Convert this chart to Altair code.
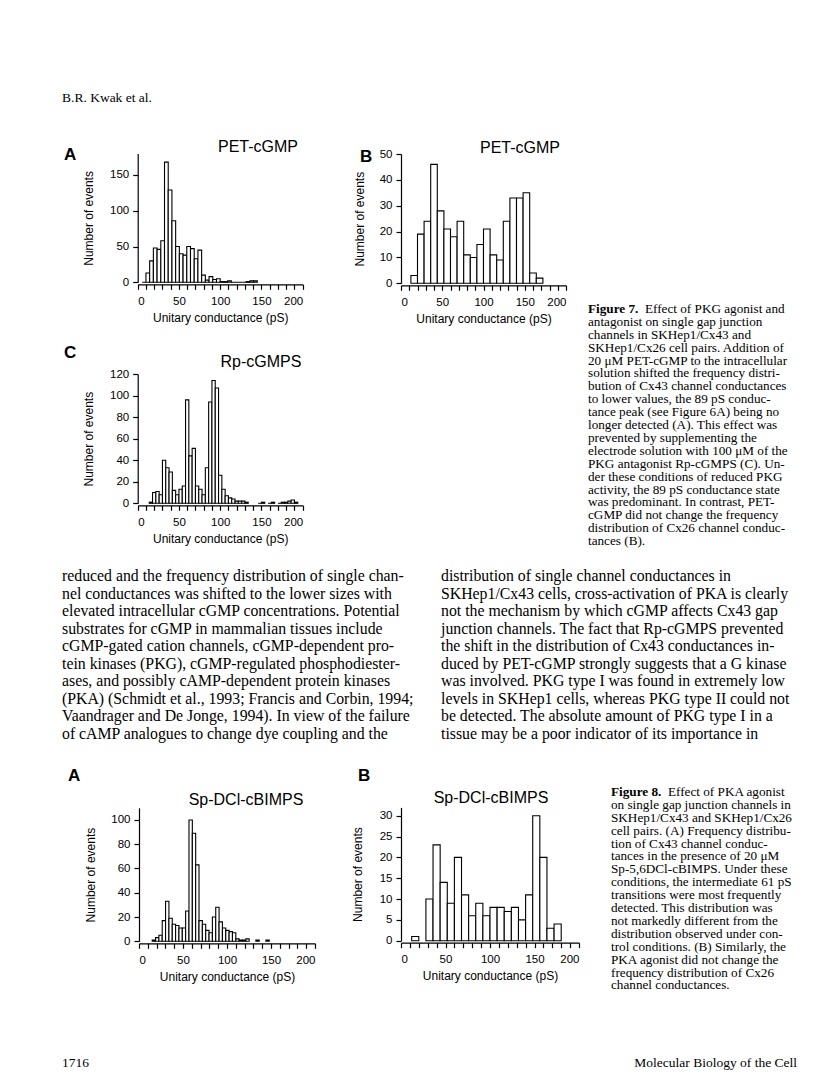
import altair as alt
import pandas as pd

# ---------------- data ----------------
# Figure 7A  PET-cGMP, SKHep1/Cx43  (bin start in pS, count)
f7a_start = [5.5, 10, 14.5, 19, 23.5, 28, 32.5, 37, 41.5, 46, 50.5, 55, 59.5, 64, 68.5, 73,
             77.5, 82, 86.5, 91, 95.5, 100, 104.5, 109, 113.5, 118, 122.5, 127, 131.5, 136, 140.5]
f7a_count = [0, 13, 30, 48, 46, 58, 168, 129, 86, 50, 40, 38, 50, 47, 33, 45,
             10, 3, 8, 4, 5, 1, 1, 2, 0, 0, 0, 0, 1, 2, 2]
f7a_width = 4.5

# Figure 7B  PET-cGMP, SKHep1/Cx26
f7b_start = [12, 20, 28, 36, 44, 52, 60, 68, 76, 84, 92, 100, 108, 116, 124, 132, 140, 148, 156, 164]
f7b_count = [3, 19, 24, 46, 28, 21, 18, 24, 11, 10, 15, 21, 11, 9, 24, 33, 33, 35, 4, 2]
f7b_width = 8

# Figure 7C  Rp-cGMPS, SKHep1/Cx43
f7c_start = [14, 18, 22, 26, 30, 34, 38, 42, 46, 50, 54, 58, 62, 66, 70, 74, 78, 82, 86, 90,
             94, 98, 102, 106, 110, 114, 118, 122, 126, 130, 146, 150, 158, 162, 170, 174,
             178, 182, 186, 190]
f7c_count = [1, 10, 11, 8, 40, 33, 29, 12, 8, 13, 16, 96, 44, 51, 16, 13, 8, 33, 94, 114,
             107, 26, 13, 7, 5, 4, 2, 2, 2, 1, 0, 1, 0, 1, 0, 1, 1, 2, 3, 1]
f7c_width = 4

# Figure 8A  Sp-DCl-cBIMPS, SKHep1/Cx43
f8a_start = [15.0, 18.8, 22.6, 26.4, 30.2, 34.0, 37.8, 41.6, 45.4, 49.2, 53.0, 56.8, 60.6,
             64.4, 68.2, 72.0, 75.8, 79.6, 83.4, 87.2, 91.0, 94.8, 98.6, 102.4, 106.2, 110.0,
             113.8, 117.6, 121.4, 132.8, 144.2]
f8a_count = [1, 3, 5, 17, 33, 19, 14, 13, 11, 11, 25, 100, 89, 63, 17, 14, 9, 7, 20, 28, 16,
             11, 9, 8, 7, 2, 1, 1, 2, 1, 1]
f8a_width = 3.8

# Figure 8B  Sp-DCl-cBIMPS, SKHep1/Cx26
f8b_start = [12, 28, 36, 44, 52, 60, 68, 76, 84, 92, 100, 108, 116, 124, 132, 140, 148, 156, 164, 172]
f8b_count = [1, 10, 23, 14, 9, 20, 11, 6, 9, 6, 8, 8, 7, 8, 5, 11, 30, 20, 3, 4]
f8b_width = 8

x_ticks = list(range(0, 201, 10))

# ---------------- page text ----------------
header = "B.R. Kwak et al."
footer_left = "1716"
footer_right = "Molecular Biology of the Cell"

cap7_head = "Figure 7."
cap7_first = "Effect of PKG agonist and"
cap7_lines = [
    "antagonist on single gap junction",
    "channels in SKHep1/Cx43 and",
    "SKHep1/Cx26 cell pairs. Addition of",
    "20 μM PET-cGMP to the intracellular",
    "solution shifted the frequency distri-",
    "bution of Cx43 channel conductances",
    "to lower values, the 89 pS conduc-",
    "tance peak (see Figure 6A) being no",
    "longer detected (A). This effect was",
    "prevented by supplementing the",
    "electrode solution with 100 μM of the",
    "PKG antagonist Rp-cGMPS (C). Un-",
    "der these conditions of reduced PKG",
    "activity, the 89 pS conductance state",
    "was predominant. In contrast, PET-",
    "cGMP did not change the frequency",
    "distribution of Cx26 channel conduc-",
    "tances (B).",
]

cap8_head = "Figure 8."
cap8_first = "Effect of PKA agonist"
cap8_lines = [
    "on single gap junction channels in",
    "SKHep1/Cx43 and SKHep1/Cx26",
    "cell pairs. (A) Frequency distribu-",
    "tion of Cx43 channel conduc-",
    "tances in the presence of 20 μM",
    "Sp-5,6DCl-cBIMPS. Under these",
    "conditions, the intermediate 61 pS",
    "transitions were most frequently",
    "detected. This distribution was",
    "not markedly different from the",
    "distribution observed under con-",
    "trol conditions. (B) Similarly, the",
    "PKA agonist did not change the",
    "frequency distribution of Cx26",
    "channel conductances.",
]

body_left = [
    "reduced and the frequency distribution of single chan-",
    "nel conductances was shifted to the lower sizes with",
    "elevated intracellular cGMP concentrations. Potential",
    "substrates for cGMP in mammalian tissues include",
    "cGMP-gated cation channels, cGMP-dependent pro-",
    "tein kinases (PKG), cGMP-regulated phosphodiester-",
    "ases, and possibly cAMP-dependent protein kinases",
    "(PKA) (Schmidt et al., 1993; Francis and Corbin, 1994;",
    "Vaandrager and De Jonge, 1994). In view of the failure",
    "of cAMP analogues to change dye coupling and the",
]
body_right = [
    "distribution of single channel conductances in",
    "SKHep1/Cx43 cells, cross-activation of PKA is clearly",
    "not the mechanism by which cGMP affects Cx43 gap",
    "junction channels. The fact that Rp-cGMPS prevented",
    "the shift in the distribution of Cx43 conductances in-",
    "duced by PET-cGMP strongly suggests that a G kinase",
    "was involved. PKG type I was found in extremely low",
    "levels in SKHep1 cells, whereas PKG type II could not",
    "be detected. The absolute amount of PKG type I in a",
    "tissue may be a poor indicator of its importance in",
]

# ---------------- layout ----------------
W, H = 800, 1076
M = 8  # page margin
SANS = "Liberation Sans"
SERIF = "Liberation Serif"
CAP = 13.2   # caption font size
BODY = 15.8  # body font size


def P(v):
    return v - M


def histogram(key, start, count, width, x0, x1, y0, ytop, ymax, yticks, ytitle_x):
    df = pd.DataFrame({key + "s": start, key + "n": count})
    df[key + "e"] = df[key + "s"] + width
    xaxis = alt.Axis(
        orient="bottom", offset=P(y0) + 2 - H, values=x_ticks,
        labelExpr="datum.value % 50 === 0 ? datum.label : ''",
        title="Unitary conductance (pS)", titleX=(P(x0) + P(x1)) / 2, titleY=33,
        titleBaseline="middle", titleAlign="center", titleAngle=0,
        labelPadding=6, tickSize=5, labelOverlap=False,
    )
    yaxis = alt.Axis(
        orient="left", offset=-P(x0), values=yticks,
        title="Number of events", titleX=ytitle_x - x0, titleY=(P(y0) + P(ytop)) / 2,
        titleBaseline="middle", titleAlign="center", titleAngle=270,
        labelPadding=4, tickSize=5, labelOverlap=False,
    )
    return alt.Chart(df).mark_bar(fill="white", stroke="black", strokeWidth=1.1).encode(
        x=alt.X(key + "s:Q", scale=alt.Scale(domain=[0, 200], range=[P(x0), P(x1)], nice=False, zero=False), axis=xaxis),
        x2=key + "e:Q",
        y=alt.Y(key + "n:Q", scale=alt.Scale(domain=[0, ymax], range=[P(y0), P(ytop)], nice=False, zero=False), axis=yaxis),
        y2=alt.datum(0),
    )


def text(lines, x, y, size, font=SERIF, weight="normal", align="left", baseline="alphabetic", lh=None):
    t = lines if isinstance(lines, str) else list(lines)
    return alt.Chart(pd.DataFrame({"d": [0]})).mark_text(
        text=t, align=align, baseline=baseline, font=font, fontSize=size,
        fontWeight=weight, color="black", lineHeight=lh if lh else size * 1.2,
    ).encode(x=alt.value(P(x)), y=alt.value(P(y)))


layers = [
    # histograms
    histogram("a7", f7a_start, f7a_count, f7a_width, 137.7, 302.7, 282.3, 153.5, 180, [0, 50, 100, 150], 88),
    histogram("b7", f7b_start, f7b_count, f7b_width, 401, 566, 283.3, 154, 50, [0, 10, 20, 30, 40, 50], 359),
    histogram("c7", f7c_start, f7c_count, f7c_width, 137.7, 302.7, 503.3, 374, 120, [0, 20, 40, 60, 80, 100, 120], 88),
    histogram("a8", f8a_start, f8a_count, f8a_width, 139, 315, 941.3, 807.8, 110, [0, 20, 40, 60, 80, 100], 90),
    histogram("b8", f8b_start, f8b_count, f8b_width, 401, 579, 940.7, 807.4, 32, [0, 5, 10, 15, 20, 25, 30], 357),
    # panel titles
    text("PET-cGMP", 258, 147, 16, font=SANS, align="center", baseline="middle"),
    text("PET-cGMP", 520, 148, 16, font=SANS, align="center", baseline="middle"),
    text("Rp-cGMPS", 261, 362, 16, font=SANS, align="center", baseline="middle"),
    text("Sp-DCl-cBIMPS", 246, 800, 16, font=SANS, align="center", baseline="middle"),
    text("Sp-DCl-cBIMPS", 491, 798, 16, font=SANS, align="center", baseline="middle"),
    # panel letters
    text("A", 64, 155, 17, font=SANS, weight="bold", baseline="middle"),
    text("B", 360, 157, 17, font=SANS, weight="bold", baseline="middle"),
    text("C", 64, 353, 17, font=SANS, weight="bold", baseline="middle"),
    text("A", 68, 776, 17, font=SANS, weight="bold", baseline="middle"),
    text("B", 358, 776, 17, font=SANS, weight="bold", baseline="middle"),
    # header / footer
    text(header, 62, 98, 13.5, baseline="middle"),
    text(footer_left, 62, 1063, 13.5, baseline="middle"),
    text(footer_right, 797, 1063, 13.5, align="right", baseline="middle"),
    # figure 7 caption
    text(cap7_head, 588, 313, CAP, weight="bold"),
    text(cap7_first, 645, 313, CAP),
    text(cap7_lines, 588, 313 + 12.9, CAP, lh=12.9),
    # figure 8 caption
    text(cap8_head, 611, 796, CAP, weight="bold"),
    text(cap8_first, 668, 796, CAP),
    text(cap8_lines, 611, 796 + 12.9, CAP, lh=12.9),
    # body text
    text(body_left, 62, 581, BODY, lh=17.5),
    text(body_right, 441, 581, BODY, lh=17.5),
]

chart = alt.layer(*layers).resolve_scale(x="independent", y="independent").properties(
    width=W, height=H, autosize=alt.AutoSizeParams(type="none"), padding=0,
).configure_view(stroke=None).configure_axis(
    grid=False, domainColor="black", tickColor="black", labelColor="black", titleColor="black",
    labelFont=SANS, titleFont=SANS, labelFontSize=11.5, titleFontSize=12, titleFontWeight="normal",
    domainWidth=1.2, tickWidth=1.2,
)

chart.save("out.html", embed_options={"renderer": "svg", "actions": False})
